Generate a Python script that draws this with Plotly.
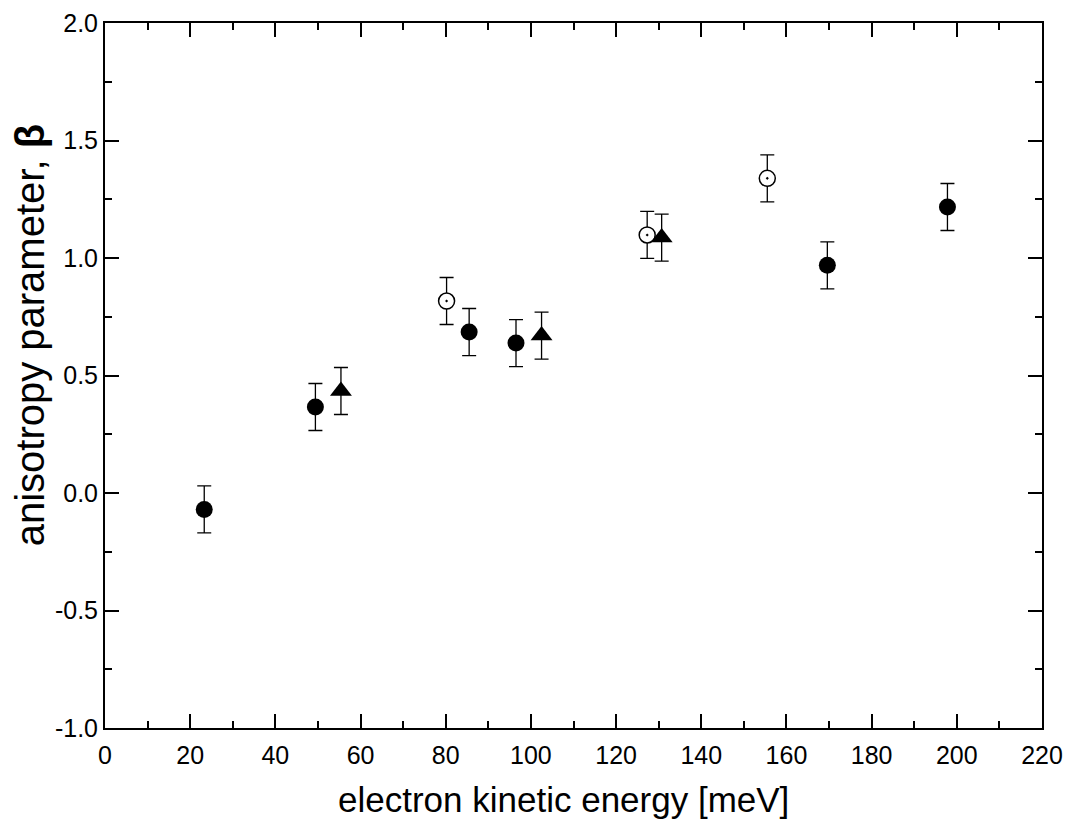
import plotly.graph_objects as go

# filled circles
fc_x = [23.3, 49.4, 85.5, 96.5, 169.6, 197.8]
fc_y = [-0.07, 0.366, 0.685, 0.638, 0.969, 1.217]
fc_err = [0.1, 0.1, 0.1, 0.1, 0.1, 0.1]

# open circles
oc_x = [80.2, 127.3, 155.5]
oc_y = [0.817, 1.098, 1.339]
oc_err = [0.1, 0.1, 0.1]

# triangles
tr_x = [55.4, 102.5, 130.7]
tr_y = [0.434, 0.670, 1.087]
tr_err = [0.1, 0.1, 0.1]

x_ticks = list(range(0, 221, 20))
y_ticks = [-1.0, -0.5, 0.0, 0.5, 1.0, 1.5, 2.0]

x_title = "electron kinetic energy [meV]"
y_title = "anisotropy parameter, <b>β</b>"

FONT = "Liberation Sans, Arial, sans-serif"

def err(e):
    return dict(type="data", array=e, visible=True, color="black", thickness=1.3, width=7)

fig = go.Figure()
fig.add_trace(go.Scatter(x=fc_x, y=fc_y, mode="markers", error_y=err(fc_err),
                         marker=dict(symbol="circle", size=17, color="black", line=dict(width=0))))
fig.add_trace(go.Scatter(x=oc_x, y=oc_y, mode="markers", error_y=err(oc_err),
                         marker=dict(symbol="circle-dot", size=16, color="white",
                                     line=dict(width=1.5, color="black"))))
fig.add_trace(go.Scatter(x=tr_x, y=tr_y, mode="markers", error_y=err(tr_err),
                         marker=dict(symbol="triangle-up", size=19, color="black", line=dict(width=0))))

axis_common = dict(showline=True, linecolor="black", linewidth=2, mirror="allticks",
                   ticks="inside", ticklen=14, tickwidth=2, tickcolor="black",
                   showgrid=False, zeroline=False,
                   tickfont=dict(family=FONT, size=25, color="black"))

fig.update_xaxes(range=[0, 220], tickvals=x_ticks, ticktext=[str(v) for v in x_ticks],
                 ticklabelstandoff=4,
                 minor=dict(ticks="inside", ticklen=7, tickwidth=2, tickcolor="black", dtick=10, showgrid=False),
                 **axis_common)
fig.update_yaxes(range=[-1, 2], tickvals=y_ticks, ticktext=[f"{v:.1f}" for v in y_ticks],
                 minor=dict(ticks="inside", ticklen=7, tickwidth=2, tickcolor="black", dtick=0.25, showgrid=False),
                 **axis_common)

fig.add_annotation(text=x_title, showarrow=False,
                   xref="paper", yref="paper", x=0.489, y=-0.102,
                   xanchor="center", yanchor="middle",
                   font=dict(family=FONT, size=35, color="black"))
fig.add_annotation(text=y_title, textangle=-90, showarrow=False,
                   xref="paper", yref="paper", x=-0.080, y=0.557,
                   xanchor="center", yanchor="middle",
                   font=dict(family=FONT, size=40, color="black"))

fig.update_layout(width=1067, height=819, showlegend=False,
                  plot_bgcolor="white", paper_bgcolor="white",
                  margin=dict(l=105, r=25, t=23, b=91, autoexpand=False))

fig.write_html("out.html", config={"displayModeBar": False},
               post_script="document.body.style.margin='0px';document.body.style.overflow='hidden';")
